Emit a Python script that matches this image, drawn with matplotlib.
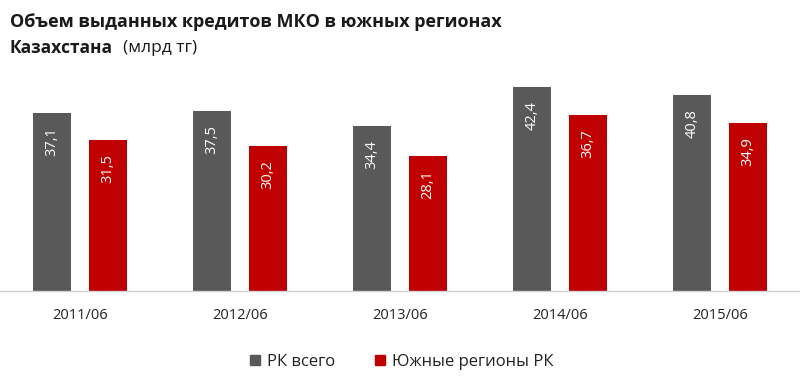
import numpy as np
import matplotlib
matplotlib.use('Agg')
import matplotlib.pyplot as plt
from matplotlib.lines import Line2D

# Data #
periods = ['2011/06', '2012/06', '2013/06', '2014/06', '2015/06']
rk_total = [37.1, 37.5, 34.4, 42.4, 40.8]
south = [31.5, 30.2, 28.1, 36.7, 34.9]
series_names = ['РК всего', 'Южные регионы РК']

gray = '#595959'
red = '#C00000'

plt.rcParams['font.family'] = ['Open Sans', 'DejaVu Sans']

fig = plt.figure(figsize=(8, 3.85), dpi=100)
ax = fig.add_axes([0, 94 / 385, 1, 216 / 385])

x = np.arange(len(periods))
w = 0.2375
off = 0.175
b1 = ax.bar(x - off, rk_total, width=w, color=gray)
b2 = ax.bar(x + off, south, width=w, color=red)

# value labels inside bars
for bars, vals in ((b1, rk_total), (b2, south)):
    for bar, v in zip(bars, vals):
        ax.annotate(f'{v:.1f}'.replace('.', ','),
                    (bar.get_x() + bar.get_width() / 2, v),
                    xytext=(0, -10), textcoords='offset points',
                    rotation=90, ha='center', va='top',
                    color='white', fontsize=10.5)

ax.set_xlim(-0.5, len(periods) - 0.5)
ax.set_ylim(0, 45)
ax.set_xticks(x)
ax.set_xticklabels(periods, fontsize=10.5, color='#222222')
ax.tick_params(axis='x', length=0, pad=12)
ax.set_yticks([])
for s in ['top', 'right', 'left']:
    ax.spines[s].set_visible(False)
ax.spines['bottom'].set_color('#D0D0D0')
ax.spines['bottom'].set_linewidth(1.0)

# title
fig.text(0.012, 1 - 22 / 385, 'Объем выданных кредитов МКО в южных регионах',
         fontsize=13, fontweight='bold', color='#1a1a1a', va='center')
t = fig.text(0.012, 1 - 48 / 385, 'Казахстана', fontsize=12.5, fontweight='bold',
             color='#1a1a1a', va='center')
fig.canvas.draw()
bb = t.get_window_extent()
fig.text((bb.x1 + 10) / 800, 1 - 48 / 385, '(млрд тг)', fontsize=12.5,
         color='#1a1a1a', va='center')

# legend
handles = [Line2D([], [], marker='s', linestyle='none', color=gray, markersize=7),
           Line2D([], [], marker='s', linestyle='none', color=red, markersize=7)]
fig.legend(handles, series_names, loc='center', bbox_to_anchor=(0.5, 1 - 362 / 385),
           ncol=2, frameon=False, fontsize=12, handletextpad=0.2, columnspacing=2.2,
           handlelength=1.0, labelcolor='#222222')

fig.savefig('out.png', dpi=100)
